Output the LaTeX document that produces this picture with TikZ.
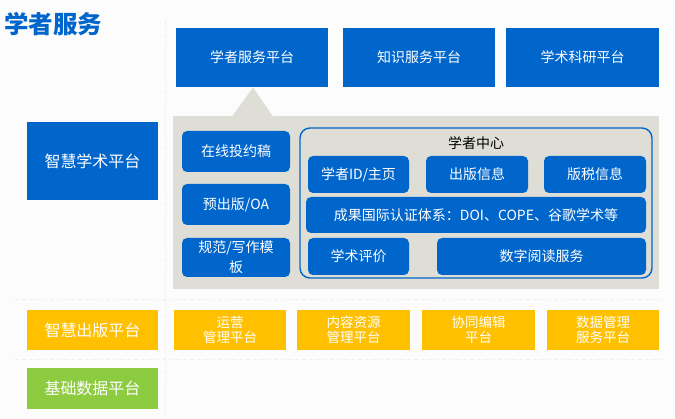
\documentclass[tikz,border=0pt]{standalone}
\usepackage{fontspec}
\setmainfont{Noto Sans CJK SC}
\newfontfamily\cjk{Noto Sans CJK SC}
\definecolor{myblue}{HTML}{0066CC}
\definecolor{myorange}{HTML}{FFC000}
\definecolor{mygreen}{HTML}{8DCC40}
\definecolor{mygray}{HTML}{DEDED6}
\definecolor{mybg}{HTML}{FCFCFC}
\definecolor{mydash}{HTML}{F0F0F0}
\tikzset{
  box/.style={inner sep=0pt, outer sep=0pt, align=center, text=white},
  bluebox/.style={box, fill=myblue, font=\cjk\fontsize{14}{17}\selectfont},
  bigbox/.style={box, font=\cjk\fontsize{16}{19}\selectfont},
  pill/.style={box, fill=myblue, rounded corners=5pt, font=\cjk\fontsize{14}{17}\selectfont},
  orangebox/.style={box, fill=myorange, font=\cjk\fontsize{13.5}{15.5}\selectfont},
  sepline/.style={mydash, line width=1pt, dash pattern=on 4pt off 3pt}
}
\begin{document}
\begin{tikzpicture}[x=1pt,y=-1pt]
\useasboundingbox (0,0) rectangle (675,419);
\fill[mybg] (0,0) rectangle (675,419);
% separators
\draw[sepline] (165,20) -- (165,419);
\draw[sepline] (15,300) -- (665,300);
\draw[sepline] (15,360) -- (665,360);
% title
\node[anchor=west, inner sep=0pt, text=myblue, font=\cjk\bfseries\fontsize{24.5}{28}\selectfont] (title) at (4,24) {学者服务};
% top boxes
\node[bluebox, minimum width=152, minimum height=59] (t1) at (252,57.5) {学者服务平台};
\node[bluebox, minimum width=152, minimum height=59] (t2) at (419,57.5) {知识服务平台};
\node[bluebox, minimum width=153, minimum height=59] (t3) at (582.5,57.5) {学术科研平台};
% panel and pointer
\fill[mygray] (232,116.5) -- (253,87.5) -- (273,116.5) -- cycle;
\fill[mygray] (173,116) rectangle (659,289);
% left label
\node[bigbox, fill=myblue, minimum width=131, minimum height=78] (ai) at (92.5,161) {智慧学术平台};
% left column
\node[pill, minimum width=108, minimum height=41] (l1) at (236,151.5) {在线投约稿};
\node[pill, minimum width=108, minimum height=41] (l2) at (236,204.5) {预出版/OA};
\node[pill, minimum width=108, minimum height=39, font=\cjk\fontsize{14}{20}\selectfont] (l3) at (236,257.5) {规范/写作模\\板};
% scholar center
\draw[myblue, line width=1.4pt, rounded corners=10pt] (300,128) rectangle (652,278);
\node[inner sep=0pt, font=\cjk\fontsize{14}{17}\selectfont] (hub) at (476,143.5) {学者中心};
\node[pill, minimum width=101, minimum height=37] (r11) at (358.5,174.5) {学者ID/主页};
\node[pill, minimum width=102, minimum height=37] (r12) at (477,174.5) {出版信息};
\node[pill, minimum width=102, minimum height=37] (r13) at (595,174.5) {版税信息};
\node[pill, minimum width=340, minimum height=36] (r2) at (476,215) {成果国际认证体系：DOI、COPE、谷歌学术等};
\node[pill, minimum width=101, minimum height=37] (r31) at (358.5,256.5) {学术评价};
\node[pill, minimum width=209, minimum height=37] (r32) at (541.5,256.5) {数字阅读服务};
% publishing platforms
\node[bigbox, fill=myorange, minimum width=131, minimum height=40] (o0) at (92.5,330) {智慧出版平台};
\node[orangebox, minimum width=112, minimum height=40] (o1) at (230,330) {运营\\管理平台};
\node[orangebox, minimum width=113, minimum height=40] (o2) at (353.5,330) {内容资源\\管理平台};
\node[orangebox, minimum width=113, minimum height=40] (o3) at (478.5,330) {协同编辑\\平台};
\node[orangebox, minimum width=112, minimum height=40] (o4) at (603,330) {数据管理\\服务平台};
% base data
\node[bigbox, fill=mygreen, minimum width=131, minimum height=41] (g0) at (92.5,388.5) {基础数据平台};
\end{tikzpicture}
\end{document}
